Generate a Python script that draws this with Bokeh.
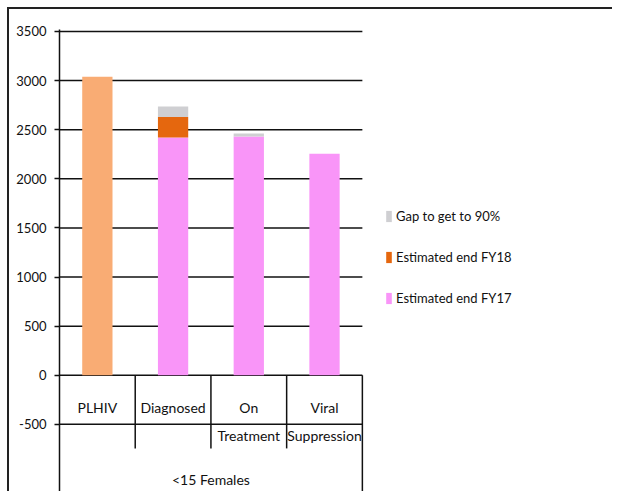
from bokeh.plotting import figure
from bokeh.models import ColumnDataSource, FixedTicker, Range1d, Legend, LegendItem, PrintfTickFormatter
from bokeh.core.properties import value
from bokeh.embed import file_html
from bokeh.resources import INLINE

# ---- data ----
categories = ["PLHIV", "Diagnosed", "On Treatment", "Viral Suppression"]
label_line1 = ["PLHIV", "Diagnosed", "On", "Viral"]
label_line2 = ["", "", "Treatment", "Suppression"]
group_label = "<15 Females"
plhiv = [3040, 0, 0, 0]
fy17 = [0, 2420, 2430, 2255]
fy18 = [0, 210, 0, 0]
gap = [0, 105, 30, 0]
y_ticks = [-500, 0, 500, 1000, 1500, 2000, 2500, 3000, 3500]

FONT = "Lato"
N = len(categories)
xs = [i + 0.5 for i in range(N)]

p = figure(width=605, height=484, output_backend="svg", toolbar_location=None,
           x_range=Range1d(0, 7.33), y_range=Range1d(-1204, 3520),
           x_axis_location=None, min_border_left=50, min_border_right=0,
           min_border_top=20, min_border_bottom=0)
p.styles = {"border-top": "2px solid #222222", "border-left": "2px solid #222222",
            "margin-top": "7px", "margin-left": "7px"}
p.outline_line_color = None
p.xgrid.visible = False
p.ygrid.visible = False

# y axis
p.yaxis.ticker = FixedTicker(ticks=y_ticks)
p.yaxis.formatter = PrintfTickFormatter(format="%d")
p.yaxis.axis_line_color = "#111111"
p.yaxis.axis_line_width = 1.5
p.yaxis.major_tick_out = 5
p.yaxis.major_tick_in = 0
p.yaxis.major_tick_line_color = "#111111"
p.yaxis.major_tick_line_width = 1.5
p.yaxis.minor_tick_line_color = None
p.yaxis.major_label_text_font = FONT
p.yaxis.major_label_text_font_size = "13px"
p.yaxis.major_label_text_color = "#111111"
p.yaxis.major_label_standoff = 8

# horizontal gridlines across the category area only
p.segment(x0=[0] * len(y_ticks), y0=y_ticks, x1=[N] * len(y_ticks), y1=y_ticks,
          line_color="#111111", line_width=1.5)

# stacked values
b18 = [a for a in fy17]
t18 = [a + b for a, b in zip(fy17, fy18)]
tgap = [a + b for a, b in zip(t18, gap)]
src = ColumnDataSource(dict(x=xs, plhiv=plhiv, fy17=fy17, b18=b18, t18=t18, tgap=tgap,
                            zero=[0] * N))
W = 0.4
r_pl = p.vbar(x="x", bottom="zero", top="plhiv", width=W, source=src,
              fill_color="#F9AC74", line_color=None)
r17 = p.vbar(x="x", bottom="zero", top="fy17", width=W, source=src,
             fill_color="#F995F8", line_color=None)
r18 = p.vbar(x="x", bottom="b18", top="t18", width=W, source=src,
             fill_color="#E5670E", line_color=None)
rgap = p.vbar(x="x", bottom="t18", top="tgap", width=W, source=src,
              fill_color="#CFCFD2", line_color=None)

# category axis (drawn at y=0)
p.segment(x0=[1, 2, 3], y0=[0, 0, 0], x1=[1, 2, 3], y1=[-745] * 3,
          line_color="#111111", line_width=1.5)
p.segment(x0=[N], y0=[0], x1=[N], y1=[-1204], line_color="#111111", line_width=1.5)
p.text(x=xs, y=[-327] * N, text=label_line1, text_font=value(FONT),
       text_font_size="14px", text_align="center", text_baseline="middle",
       text_color="#111111")
p.text(x=xs, y=[-612] * N, text=label_line2, text_font=value(FONT),
       text_font_size="14px", text_align="center", text_baseline="middle",
       text_color="#111111")
p.text(x=[N / 2], y=[-1061], text=[group_label], text_font=value(FONT),
       text_font_size="14px", text_align="center", text_baseline="middle",
       text_color="#111111")

legend = Legend(items=[LegendItem(label="Gap to get to 90%", renderers=[rgap]),
                       LegendItem(label="Estimated end FY18", renderers=[r18]),
                       LegendItem(label="Estimated end FY17", renderers=[r17])],
                location=(326, 185), orientation="vertical")
legend.border_line_color = None
legend.background_fill_alpha = 0
legend.padding = 0
legend.margin = 0
legend.glyph_width = 7
legend.glyph_height = 14
legend.label_height = 20
legend.spacing = 21
legend.label_standoff = 4
legend.label_text_font = FONT
legend.label_text_font_size = "13px"
legend.label_text_color = "#111111"
p.add_layout(legend, "center")

open("out.html", "w").write(file_html(p, INLINE))
